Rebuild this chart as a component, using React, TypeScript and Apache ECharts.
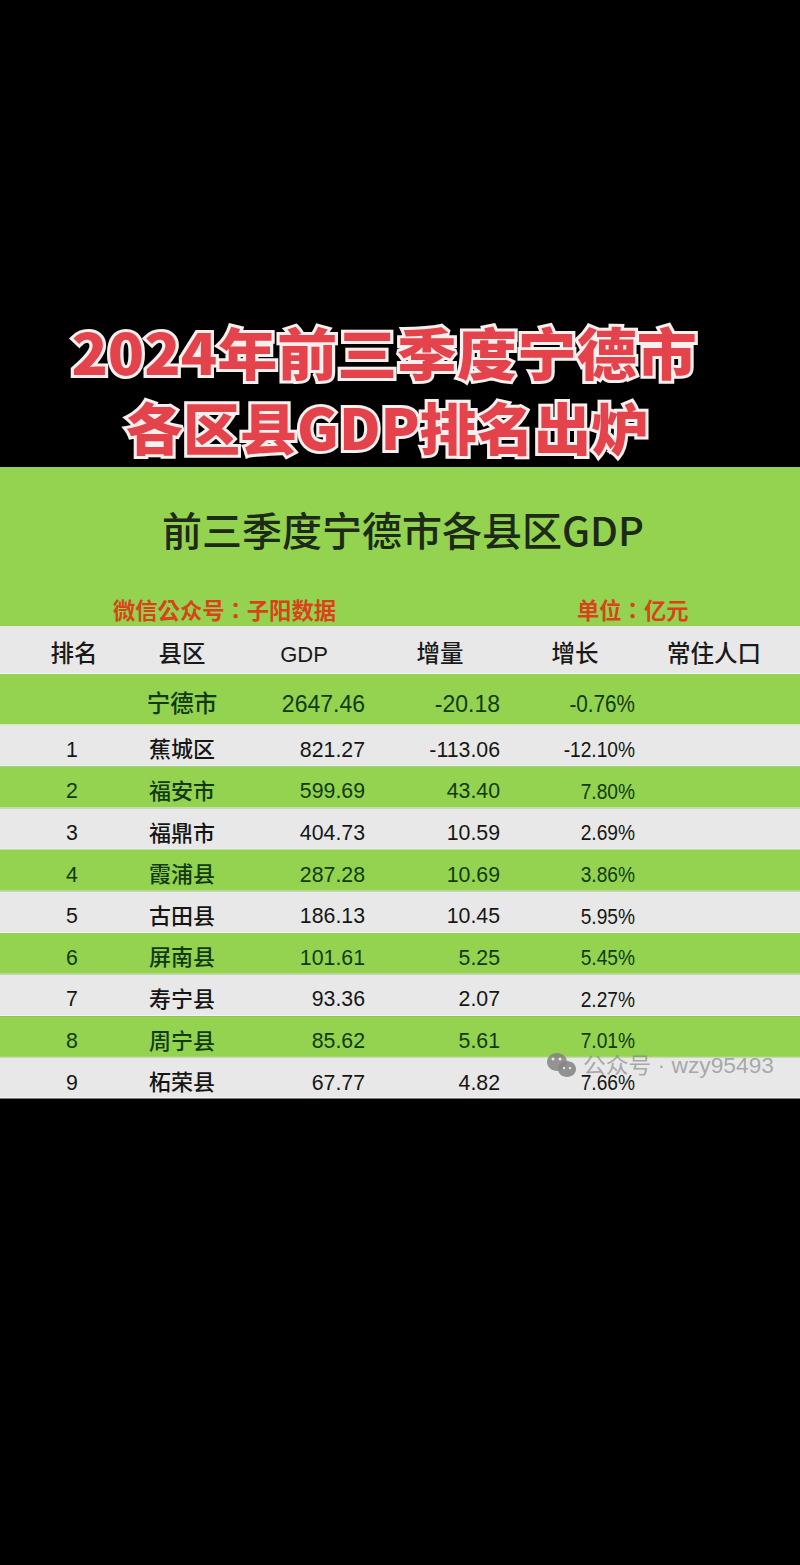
import { useEffect, useRef } from 'react';
import * as echarts from 'echarts';

const titleLines = ['2024年前三季度宁德市', '各区县GDP排名出炉'];
const subtitle = '前三季度宁德市各县区GDP';
const sourceNote = '微信公众号：子阳数据';
const unitNote = '单位：亿元';
const headers = ['排名', '县区', 'GDP', '增量', '增长', '常住人口'];
const totalRow = ['', '宁德市', '2647.46', '-20.18', '-0.76%'];
const ranks = ['1', '2', '3', '4', '5', '6', '7', '8', '9'];
const counties = ['蕉城区', '福安市', '福鼎市', '霞浦县', '古田县', '屏南县', '寿宁县', '周宁县', '柘荣县'];
const gdp = ['821.27', '599.69', '404.73', '287.28', '186.13', '101.61', '93.36', '85.62', '67.77'];
const increase = ['-113.06', '43.40', '10.59', '10.69', '10.45', '5.25', '2.07', '5.61', '4.82'];
const growth = ['-12.10%', '7.80%', '2.69%', '3.86%', '5.95%', '5.45%', '2.27%', '7.01%', '7.66%'];
const watermark = '公众号 · wzy95493';

const GREEN = '#93d350';
const GREY = '#e8e8e8';
const FAMILY = '"Liberation Sans", "Noto Sans CJK SC", sans-serif';
const CJK = '"Noto Sans CJK SC", sans-serif';
const CJK_TC = '"Noto Sans CJK TC", sans-serif';

const bodyRows = ranks.map((r, i) => [r, counties[i], gdp[i], increase[i], growth[i]]);

// x of each column's anchor
const headerX = [74, 182, 304, 440, 575, 714];
const cellX = [72, 182, 365, 500, 635];
const cellAlign = ['center', 'center', 'right', 'right', 'right'];

function tableSeries(rows: string[][], gridIndex: number, opts: {
  fill: (i: number) => string;
  color: (i: number) => string;
  fontSize: number;
  cjkSize: number;
  dy: number;
  header?: boolean;
}) {
  return {
    type: 'custom',
    xAxisIndex: gridIndex,
    yAxisIndex: gridIndex,
    silent: true,
    clip: false,
    encode: { x: 0, y: 1 },
    data: rows.map((_, i) => [0, i]),
    renderItem: (_: any, api: any) => {
      const i = api.value(1);
      const [left, cy] = api.coord([0, i]);
      const h = api.size([0, 1])[1];
      const right = api.coord([800, i])[0];
      const cells = rows[i];
      const children: any[] = [
        { type: 'rect', shape: { x: left, y: cy - h / 2, width: right - left, height: h }, style: { fill: opts.fill(i) } },
        { type: 'rect', shape: { x: left, y: cy + h / 2 - 1, width: right - left, height: 1.5 }, style: { fill: 'rgba(255,255,255,0.55)' } },
      ];
      cells.forEach((t, c) => {
        if (!t) return;
        const isName = !opts.header && c === 1;
        const isGrowth = !opts.header && c === 4;
        const px = opts.header ? headerX[c] : cellX[c];
        const weight = opts.header || isName ? (t === 'GDP' ? 400 : 500) : 400;
        const size = opts.header ? (t === 'GDP' ? 22 : opts.cjkSize) : isName ? opts.cjkSize : opts.fontSize;
        const el: any = {
          type: 'text',
          x: api.coord([px, i])[0],
          y: cy + opts.dy,
          style: {
            text: t,
            fill: opts.color(i),
            align: opts.header ? 'center' : cellAlign[c],
            verticalAlign: 'middle',
            font: `${weight} ${size}px ${FAMILY}`,
          },
        };
        if (isGrowth) el.scaleX = 0.9;
        children.push(el);
      });
      return { type: 'group', children };
    },
  };
}

export default function App() {
  const ref = useRef<HTMLDivElement>(null);

  useEffect(() => {
    if (!ref.current) return;
    const chart = echarts.init(ref.current, undefined, { renderer: 'svg' });
    const axes = (cats: string[], top: number, height: number) => ({
      grid: { left: 0, width: 800, top, height, containLabel: false },
      x: { type: 'value', min: 0, max: 800, show: false },
      y: { type: 'category', data: cats, inverse: true, show: false },
    });
    const parts = [
      axes(['表头'], 626, 48),
      axes(['宁德市'], 674, 51),
      // the last row runs under the black area, as in the picture
      axes(counties, 725, 374.4),
    ];
    chart.setOption({
      animation: false,
      backgroundColor: '#000000',
      grid: parts.map((p) => p.grid),
      xAxis: parts.map((p, i) => ({ ...p.x, gridIndex: i })),
      yAxis: parts.map((p, i) => ({ ...p.y, gridIndex: i })),
      series: [
        tableSeries([headers], 0, {
          fill: () => GREY, color: () => '#1a1a1a', fontSize: 22, cjkSize: 23.5, dy: 4, header: true,
        }),
        tableSeries([totalRow], 1, {
          fill: () => GREEN, color: () => '#123a12', fontSize: 23, cjkSize: 23.5, dy: 4.5,
        }),
        tableSeries(bodyRows, 2, {
          fill: (i) => (i % 2 === 0 ? GREY : GREEN),
          color: (i) => (i % 2 === 0 ? '#161616' : '#123a12'),
          fontSize: 21.3, cjkSize: 22, dy: 4,
        }),
      ],
      graphic: [
        { type: 'rect', z: 1, shape: { x: 0, y: 467, width: 800, height: 159 }, style: { fill: GREEN } },
        { type: 'rect', z: 10, shape: { x: 0, y: 1097, width: 800, height: 468 }, style: { fill: '#000000' } },
        { type: 'rect', z: 10, shape: { x: 0, y: 1097, width: 800, height: 1.5 }, style: { fill: '#f4f4f4' } },
        ...titleLines.map((t, i) => ({
          type: 'text', z: 5, x: [384, 387][i], y: [351, 425][i], scaleX: [1.07, 1.02][i],
          style: {
            text: t, fill: '#e5434b', stroke: '#f7eeee', lineWidth: 6, strokeFirst: true,
            align: 'center', verticalAlign: 'middle', font: `900 56px ${CJK}`,
          },
        })),
        { type: 'text', z: 5, x: 403, y: 529, style: { text: subtitle, fill: '#1d2a18', align: 'center', verticalAlign: 'middle', font: `500 40px ${CJK}` } },
        { type: 'text', z: 5, x: 113, y: 609, style: { text: sourceNote, fill: '#d9431b', verticalAlign: 'middle', font: `700 22.3px ${CJK_TC}` } },
        { type: 'text', z: 5, x: 577, y: 609, style: { text: unitNote, fill: '#d9431b', verticalAlign: 'middle', font: `700 22.3px ${CJK_TC}` } },
        { type: 'ellipse', z: 20, shape: { cx: 557, cy: 1062, rx: 10, ry: 9 }, style: { fill: 'rgba(125,125,125,0.8)' } },
        { type: 'ellipse', z: 21, shape: { cx: 567, cy: 1069, rx: 9, ry: 8 }, style: { fill: 'rgba(135,135,135,0.9)' } },
        { type: 'circle', z: 22, shape: { cx: 553, cy: 1059, r: 1.5 }, style: { fill: '#e8e8e8' } },
        { type: 'circle', z: 22, shape: { cx: 560, cy: 1059, r: 1.5 }, style: { fill: '#e8e8e8' } },
        { type: 'circle', z: 22, shape: { cx: 564, cy: 1068, r: 1.2 }, style: { fill: '#e8e8e8' } },
        { type: 'circle', z: 22, shape: { cx: 570, cy: 1068, r: 1.2 }, style: { fill: '#e8e8e8' } },
        { type: 'text', z: 20, x: 583, y: 1066, scaleX: 1.035, style: { text: watermark, fill: 'rgba(125,125,125,0.62)', verticalAlign: 'middle', font: `400 22px ${FAMILY}` } },
      ],
    });
    return () => chart.dispose();
  }, []);

  return <div ref={ref} style={{ position: 'fixed', left: 0, top: 0, width: 800, height: 1565 }} />;
}
